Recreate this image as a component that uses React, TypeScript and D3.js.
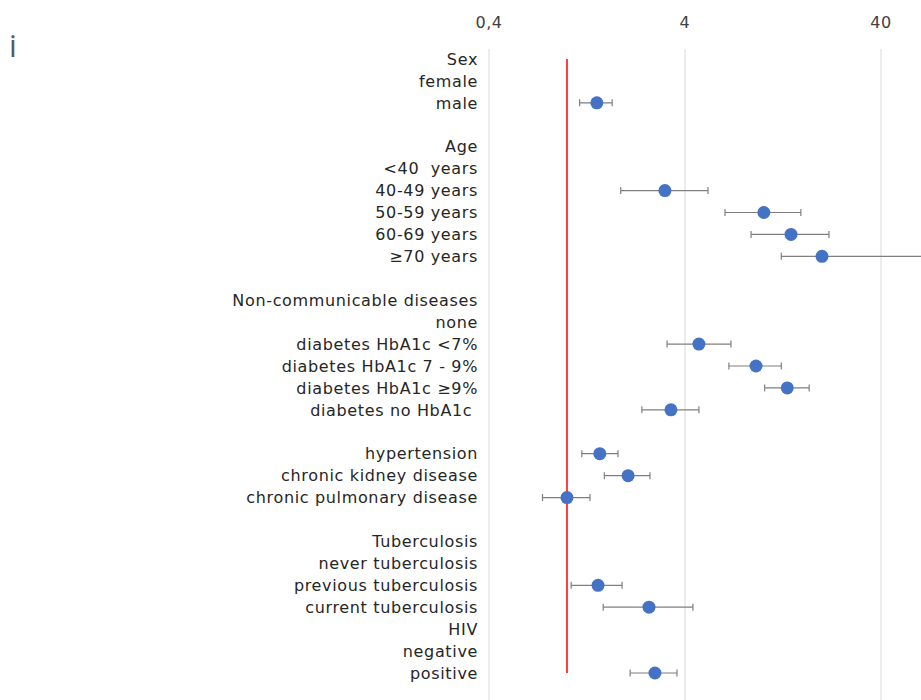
import React from "react";
import * as d3 from "d3";

const labels = [
  "Sex", "female", "male", "",
  "Age", "<40  years", "40-49 years", "50-59 years", "60-69 years", "≥70 years", "",
  "Non-communicable diseases", "none", "diabetes HbA1c <7%", "diabetes HbA1c 7 - 9%", "diabetes HbA1c ≥9%", "diabetes no HbA1c ", "",
  "hypertension", "chronic kidney disease", "chronic pulmonary disease", "",
  "Tuberculosis", "never tuberculosis", "previous tuberculosis", "current tuberculosis",
  "HIV", "negative", "positive",
];

// point estimates (null = reference / header)
const estimates: (number | null)[] = [
  null, null, 1.42, null,
  null, null, 3.16, 10.1, 13.9, 20.0, null,
  null, null, 4.71, 9.21, 13.3, 3.39, null,
  1.47, 2.05, 1.0, null,
  null, null, 1.44, 2.62,
  null, null, 2.81,
];
const lower: (number | null)[] = [
  null, null, 1.16, null,
  null, null, 1.88, 6.40, 8.69, 12.4, null,
  null, null, 3.24, 6.70, 10.2, 2.41, null,
  1.19, 1.55, 0.75, null,
  null, null, 1.05, 1.53,
  null, null, 2.10,
];
const upper: (number | null)[] = [
  null, null, 1.70, null,
  null, null, 5.24, 15.6, 21.7, 80, null,
  null, null, 6.86, 12.4, 17.2, 4.71, null,
  1.82, 2.65, 1.31, null,
  null, null, 1.91, 4.39,
  null, null, 3.64,
];
const tickValues = [0.4, 4, 40];
const tickLabels = ["0,4", "4", "40"];
const refValue = 1;

const W = 921;
const H = 700;
const FONT = "'DejaVu Sans', sans-serif";

export default function App() {
  const x = d3.scaleLog().domain([0.4, 40]).range([489, 881]);
  const y = d3.scaleLinear().domain([0, labels.length - 1]).range([59, 673]);
  const gray = "#7f7f7f";
  return (
    <svg width={W} height={H} style={{ position: "absolute", left: 0, top: 0, background: "#fff" }}>
      <defs>
        <clipPath id="plotclip">
          <rect x={0} y={0} width={W} height={H} />
        </clipPath>
      </defs>
      <text x={9} y={57} fontFamily="'Open Sans', sans-serif" fontSize={31} fill="#595959">i</text>
      {tickValues.map((t, i) => (
        <g key={i}>
          <line x1={x(t)} x2={x(t)} y1={49} y2={H} stroke="#d9d9d9" strokeWidth={1} />
          <text x={x(t)} y={28} textAnchor="middle" fontFamily={FONT} fontSize={16} letterSpacing={0.6} fill="#404040">
            {tickLabels[i]}
          </text>
        </g>
      ))}
      <line x1={x(refValue)} x2={x(refValue)} y1={59} y2={673} stroke="#ff0000" strokeWidth={1.5} />
      {labels.map((l, i) => (
        <text key={i} x={478} y={y(i)} dy="0.36em" textAnchor="end" fontFamily={FONT} fontSize={16}
          letterSpacing={0.65} fill="#262626" style={{ whiteSpace: "pre" }}>
          {l}
        </text>
      ))}
      <g clipPath="url(#plotclip)">
        {estimates.map((e, i) => {
          if (e == null) return null;
          const lo = lower[i] as number;
          const hi = upper[i] as number;
          const yy = y(i);
          return (
            <g key={i}>
              <line x1={x(lo)} x2={x(hi)} y1={yy} y2={yy} stroke={gray} strokeWidth={1.2} />
              <line x1={x(lo)} x2={x(lo)} y1={yy - 3.5} y2={yy + 3.5} stroke={gray} strokeWidth={1.2} />
              <line x1={x(hi)} x2={x(hi)} y1={yy - 3.5} y2={yy + 3.5} stroke={gray} strokeWidth={1.2} />
              <circle cx={x(e)} cy={yy} r={6.5} fill="#4472c4" />
            </g>
          );
        })}
      </g>
    </svg>
  );
}
